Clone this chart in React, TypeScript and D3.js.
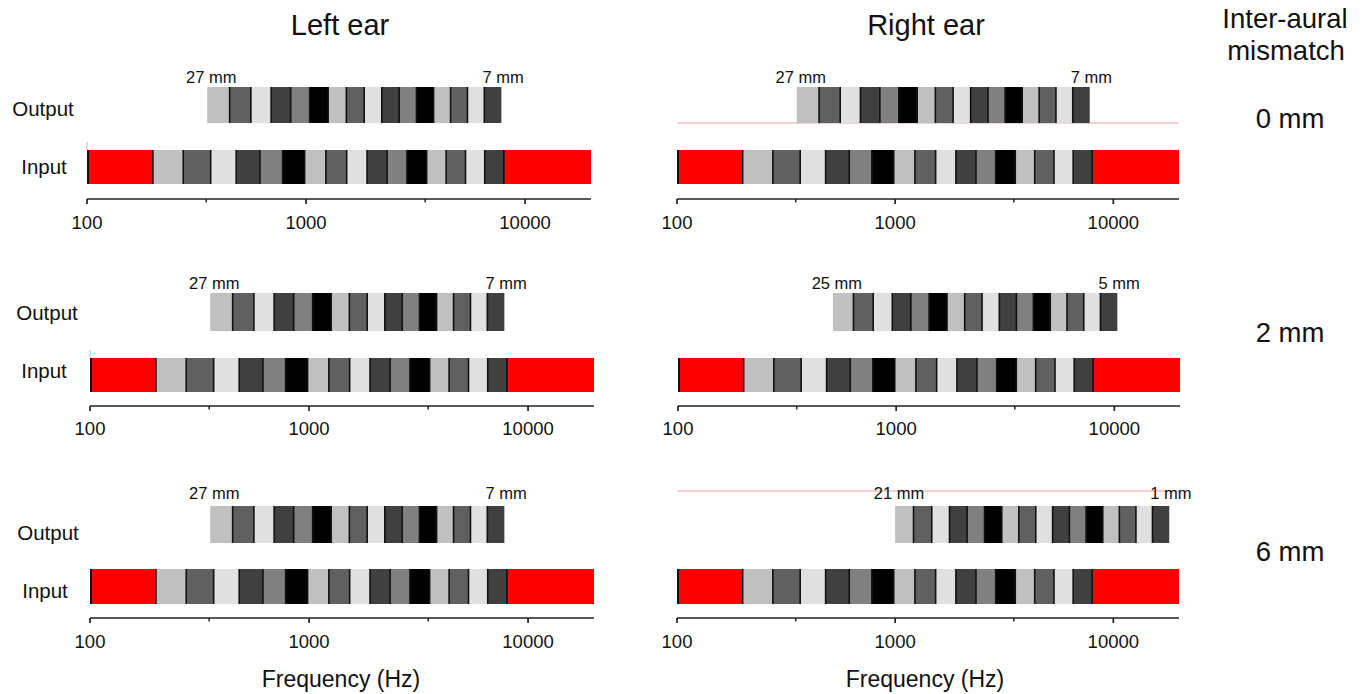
import React from "react";
import * as d3 from "d3";

// ---- data ----
const freqDomain = [100, 20000];
const majorTicks = [100, 1000, 10000];
const minorTicks = [350, 3500];
const redBandsLow = [100, 200];
const redBandsHigh = [8000, 20000];
const inputEdges = [200, 275, 367, 480, 616, 782, 985, 1232, 1533, 1899, 2346, 2890, 3553, 4361, 5346, 6545, 8000];
const outputEdges27to7 = [354, 448, 560, 693, 851, 1039, 1262, 1528, 1843, 2218, 2663, 3193, 3822, 4570, 5458, 6515, 7771];
const outputEdges25to5 = [513, 637, 785, 960, 1168, 1416, 1710, 2061, 2476, 2970, 3558, 4256, 5085, 6070, 7243, 8636, 10291];
const outputEdges21to1 = [999, 1214, 1471, 1775, 2137, 2568, 3080, 3687, 4410, 5268, 6289, 7502, 8943, 10657, 12693, 15114, 17990];
const bandGrays = [
  "#c0c0c0", "#606060", "#e0e0e0", "#404040", "#808080", "#000000",
  "#c0c0c0", "#606060", "#e0e0e0", "#404040", "#808080", "#000000",
  "#c0c0c0", "#606060", "#e0e0e0", "#404040",
];
const mismatchLabels = ["0 mm", "2 mm", "6 mm"];
const leftDepthLabels = [["27 mm", "7 mm"], ["27 mm", "7 mm"], ["27 mm", "7 mm"]];
const rightDepthLabels = [["27 mm", "7 mm"], ["25 mm", "5 mm"], ["21 mm", "1 mm"]];
const leftOutputs = [outputEdges27to7, outputEdges27to7, outputEdges27to7];
const rightOutputs = [outputEdges27to7, outputEdges25to5, outputEdges21to1];

// ---- layout ----
const W = 1367, H = 694;
const FONT = "'Liberation Sans', Arial, Helvetica, sans-serif";
const rows = [
  { outTop: 87, outH: 36, inTop: 150, inH: 34, axisY: 199, tickLabY: 229, outLabY: 109, inLabY: 167, mmBase: 83, mismY: 118, labX: [43, 44] },
  { outTop: 293, outH: 38, inTop: 358, inH: 34, axisY: 406, tickLabY: 435, outLabY: 313, inLabY: 371, mmBase: 289, mismY: 332, labX: [47, 44] },
  { outTop: 506, outH: 37, inTop: 569, inH: 35, axisY: 618, tickLabY: 648, outLabY: 533, inLabY: 591, mmBase: 499, mismY: 551, labX: [48, 45] },
];
const leftRanges = [[87, 591], [90, 594], [90, 594]];
const rightRanges = [[677, 1179], [678, 1180], [677, 1179]];

function Bar({ x, edges, y, h }: any) {
  const segs = d3.pairs(edges);
  return (
    <g>
      {segs.map(([a, b], i) => (
        <rect key={i} x={x(a)} y={y} width={x(b) - x(a) + 0.3} height={h} fill={bandGrays[i]} />
      ))}
      {edges.slice(1, -1).map((e: number, i: number) => (
        <line key={"l" + i} x1={x(e)} x2={x(e)} y1={y} y2={y + h} stroke="#111" strokeWidth={1.6} />
      ))}
    </g>
  );
}

function Panel({ range, row, outEdges, depth, side, r }: any) {
  const x = d3.scaleLog().domain(freqDomain).range(range);
  return (
    <g>
      {side === "right" && r === 0 && (
        <line x1={range[0]} x2={range[1]} y1={row.outTop + row.outH} y2={row.outTop + row.outH} stroke="#f2a0a0" strokeWidth={1} />
      )}
      {side === "right" && r === 2 && (
        <line x1={range[0]} x2={range[1]} y1={491} y2={491} stroke="#f2a0a0" strokeWidth={1} />
      )}
      {side === "left" && r < 2 && (
        <line x1={range[0]} x2={range[0]} y1={row.inTop - 8} y2={row.inTop} stroke="#bbb" strokeWidth={1} />
      )}
      <Bar x={x} edges={outEdges} y={row.outTop} h={row.outH} />
      <rect x={x(redBandsLow[0])} y={row.inTop} width={x(redBandsLow[1]) - x(redBandsLow[0])} height={row.inH} fill="#ff0000" />
      <rect x={x(redBandsHigh[0])} y={row.inTop} width={x(redBandsHigh[1]) - x(redBandsHigh[0])} height={row.inH} fill="#ff0000" />
      <Bar x={x} edges={inputEdges} y={row.inTop} h={row.inH} />
      <line x1={x(redBandsLow[1])} x2={x(redBandsLow[1])} y1={row.inTop} y2={row.inTop + row.inH} stroke="#111" strokeWidth={1.6} />
      <line x1={x(redBandsHigh[0])} x2={x(redBandsHigh[0])} y1={row.inTop} y2={row.inTop + row.inH} stroke="#111" strokeWidth={1.6} />
      <line x1={x(redBandsLow[0]) + 1} x2={x(redBandsLow[0]) + 1} y1={row.inTop} y2={row.inTop + row.inH} stroke="#111" strokeWidth={2} />
      <text x={x(outEdges[0]) + 4} y={row.mmBase} textAnchor="middle" fontSize={16.5} fontFamily={FONT} fill="#111">{depth[0]}</text>
      <text x={x(outEdges[outEdges.length - 1]) + 2} y={row.mmBase} textAnchor="middle" fontSize={16.5} fontFamily={FONT} fill="#111">{depth[1]}</text>
      <line x1={range[0]} x2={range[1]} y1={row.axisY} y2={row.axisY} stroke="#222" strokeWidth={1.7} />
      {majorTicks.map((t) => (
        <g key={t}>
          <line x1={x(t)} x2={x(t)} y1={row.axisY} y2={row.axisY + 5} stroke="#222" strokeWidth={1.7} />
          <text x={x(t)} y={row.tickLabY} textAnchor="middle" fontSize={18.5} fontFamily={FONT} fill="#111">{t}</text>
        </g>
      ))}
      {minorTicks.map((t) => (
        <line key={t} x1={x(t)} x2={x(t)} y1={row.axisY} y2={row.axisY + 3.5} stroke="#222" strokeWidth={1.5} />
      ))}
      {side === "left" && (
        <g>
          <text x={row.labX[0]} y={row.outLabY + 7} textAnchor="middle" fontSize={20.5} fontFamily={FONT} fill="#111">Output</text>
          <text x={row.labX[1]} y={row.inLabY + 7} textAnchor="middle" fontSize={20.5} fontFamily={FONT} fill="#111">Input</text>
        </g>
      )}
    </g>
  );
}

export default function App() {
  return (
    <svg width={W} height={H} style={{ position: "absolute", left: 0, top: 0, background: "#fff" }}>
      <text x={340} y={35} textAnchor="middle" fontSize={29} fontFamily={FONT} fill="#111">Left ear</text>
      <text x={926} y={35} textAnchor="middle" fontSize={29} fontFamily={FONT} fill="#111">Right ear</text>
      <text x={1285} y={28} textAnchor="middle" fontSize={27.5} fontFamily={FONT} fill="#111">Inter-aural</text>
      <text x={1286} y={60} textAnchor="middle" fontSize={27.5} fontFamily={FONT} fill="#111">mismatch</text>
      {rows.map((row, r) => (
        <g key={r}>
          <Panel range={leftRanges[r]} row={row} outEdges={leftOutputs[r]} depth={leftDepthLabels[r]} side="left" r={r} />
          <Panel range={rightRanges[r]} row={row} outEdges={rightOutputs[r]} depth={rightDepthLabels[r]} side="right" r={r} />
          <text x={1290} y={row.mismY + 10} textAnchor="middle" fontSize={27.5} fontFamily={FONT} fill="#111">{mismatchLabels[r]}</text>
        </g>
      ))}
      <text x={341} y={687} textAnchor="middle" fontSize={23} fontFamily={FONT} fill="#111">Frequency (Hz)</text>
      <text x={925} y={687} textAnchor="middle" fontSize={23} fontFamily={FONT} fill="#111">Frequency (Hz)</text>
    </svg>
  );
}
